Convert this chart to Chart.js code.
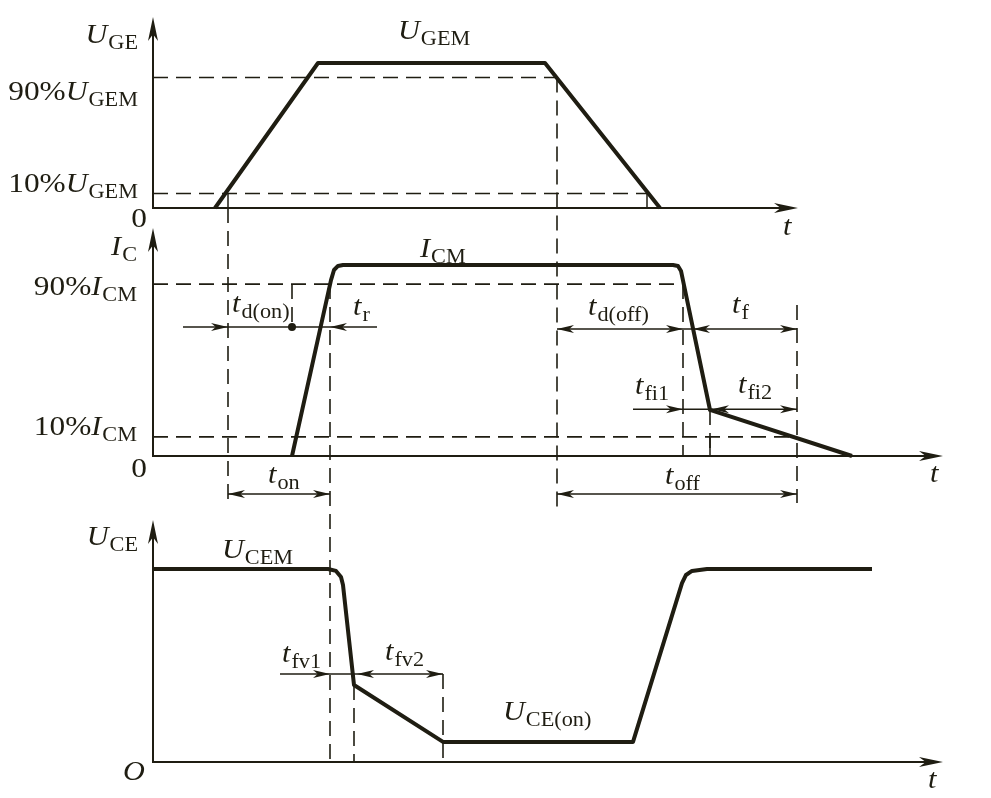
<!DOCTYPE html>
<html>
<head>
<meta charset="utf-8">
<script src="https://cdn.jsdelivr.net/npm/chart.js@4/dist/chart.umd.min.js"></script>
<style>
  html, body { margin: 0; padding: 0; background: #fff; }
</style>
</head>
<body>
<canvas id="myChart" width="991" height="798"></canvas>
<script>
// time in arbitrary units, 0 = the vertical axes
// each waveform normalised to its own maximum (UGEM, ICM, UCEM = 1)
const ugeT = [6.2, 16.5, 39.2, 50.7]
const ugeV = [0, 1, 1, 0]
const icT = [13.9, 17.8, 18.1, 18.5, 19.0, 52.0, 52.5, 52.8, 55.7, 69.9]
const icV = [0, 0.921, 0.974, 0.995, 1, 1, 0.995, 0.969, 0.241, 0]
const uceT = [0, 17.5, 18.3, 18.8, 19.0, 20.1, 29.0, 48.0, 52.9, 53.3, 53.9, 55.4, 71.9]
const uceV = [1, 1, 0.990, 0.959, 0.917, 0.399, 0.104, 0.104, 0.927, 0.969, 0.990, 1, 1]

// axes: panel, arrow top value, x-axis end time
const axesDef = [['g', 1.317, 64.5], ['c', 1.194, 79.0], ['e', 1.254, 79.0]]

// dashed guides: horizontal [panel, level, t0, t1]
const hGuides = [['g', 0.9, 0, 40.4], ['g', 0.1, 0, 49.4], ['c', 0.9, 0, 53.0], ['c', 0.1, 0, 64.4]]
// vertical [t, panelFrom, vFrom, panelTo, vTo]
const vGuides = [
    [7.5, 'g', 0, 'c', -0.267],
    [40.4, 'g', 0.9, 'c', -0.267],
    [13.9, 'c', 0.9, 'c', 0.675],
    [17.7, 'c', 0.9, 'e', 0],
    [53.0, 'c', 0.9, 'c', 0],
    [55.7, 'c', 0.241, 'c', 0],
    [64.4, 'c', 0.79, 'c', -0.246],
    [20.1, 'e', 0.399, 'e', 0],
    [29.0, 'e', 0.456, 'e', 0]
]
// short solid ticks [t, panel, v0, v1]
const ticksDef = [[7.5, 'g', 0.1, 0], [49.4, 'g', 0.1, 0], [55.7, 'c', 0.1, 0]]

// dimension lines [panel, level, t0, t1, arrowheads [t, dir]]
const dims = [
    ['c', 0.675, 3.0, 22.4, [[7.5, 1], [17.7, -1]]],
    ['c', 0.665, 40.4, 64.4, [[40.4, -1], [53.0, 1], [54.0, -1], [64.4, 1]]],
    ['c', 0.245, 48.0, 64.4, [[53.0, 1], [55.9, -1], [64.4, 1]]],
    ['c', -0.199, 7.5, 17.7, [[7.5, -1], [17.7, 1]]],
    ['c', -0.199, 40.4, 64.4, [[40.4, -1], [64.4, 1]]],
    ['e', 0.456, 12.7, 29.0, [[17.7, 1], [20.4, -1], [29.0, 1]]]
]
const dots = [['c', 13.9, 0.675]]

// labels [upright prefix, italic, subscript, panel, t, v, align]
const labels = [
    ['', 'U', 'GE', 'g', -1.5, 1.138, 'right'],
    ['90%', 'U', 'GEM', 'g', -1.5, 0.745, 'right'],
    ['10%', 'U', 'GEM', 'g', -1.5, 0.110, 'right'],
    ['0', '', '', 'g', -0.6, -0.131, 'right'],
    ['', 'U', 'GEM', 'g', 24.5, 1.166, 'left'],
    ['', 't', '', 'g', 63.0, -0.186, 'left'],
    ['', 'I', 'C', 'c', -1.6, 1.052, 'right'],
    ['90%', 'I', 'CM', 'c', -1.6, 0.843, 'right'],
    ['10%', 'I', 'CM', 'c', -1.6, 0.110, 'right'],
    ['0', '', '', 'c', -0.6, -0.110, 'right'],
    ['', 'I', 'CM', 'c', 26.7, 1.042, 'left'],
    ['', 't', 'd(on)', 'c', 7.9, 0.754, 'left'],
    ['', 't', 'r', 'c', 20.0, 0.738, 'left'],
    ['', 't', 'd(off)', 'c', 43.5, 0.738, 'left'],
    ['', 't', 'f', 'c', 57.9, 0.749, 'left'],
    ['', 't', 'fi1', 'c', 48.2, 0.325, 'left'],
    ['', 't', 'fi2', 'c', 58.5, 0.330, 'left'],
    ['', 't', 'on', 'c', 11.5, -0.141, 'left'],
    ['', 't', 'off', 'c', 51.2, -0.147, 'left'],
    ['', 't', '', 'c', 77.7, -0.136, 'left'],
    ['', 'U', 'CE', 'e', -1.5, 1.124, 'right'],
    ['', 'U', 'CEM', 'e', 6.9, 1.057, 'left'],
    ['', 't', 'fv1', 'e', 12.9, 0.518, 'left'],
    ['', 't', 'fv2', 'e', 23.2, 0.528, 'left'],
    ['', 'U', 'CE(on)', 'e', 35.0, 0.218, 'left'],
    ['', 'O', '', 'e', -3.0, -0.093, 'left'],
    ['', 't', '', 'e', 77.5, -0.135, 'left']
]

const ink = '#1f1d12'

function pts(ts, vs) {
    return ts.map((t, i) => ({x: t, y: vs[i]}))
}

function arrowHead(ctx, x, y, dx, dy, len, w) {
    // tip at (x,y), pointing along (dx,dy)
    const nx = -dy, ny = dx
    ctx.beginPath()
    ctx.moveTo(x, y)
    ctx.lineTo(x - dx * len + nx * w, y - dy * len + ny * w)
    ctx.lineTo(x - dx * len * 0.72, y - dy * len * 0.72)
    ctx.lineTo(x - dx * len - nx * w, y - dy * len - ny * w)
    ctx.closePath()
    ctx.fill()
}

// draws a piece of text stretched horizontally, returns its width
function piece(ctx, text, font, sx, x, y, measureOnly) {
    ctx.font = font
    const w = ctx.measureText(text).width * sx
    if (!measureOnly && text) {
        ctx.save()
        ctx.translate(x, y)
        ctx.scale(sx, 1)
        ctx.fillText(text, 0, 0)
        ctx.restore()
    }
    return w
}

function drawLabel(ctx, pre, ital, sub, x, y, align) {
    const fUp = '28px "Liberation Serif"'
    const fIt = 'italic 28px "Liberation Serif"'
    const fSub = '21px "Liberation Serif"'
    ctx.textAlign = 'left'
    ctx.textBaseline = 'alphabetic'
    const total = piece(ctx, pre, fUp, 1.12, 0, 0, true) + piece(ctx, ital, fIt, 1.08, 0, 0, true) +
        piece(ctx, sub, fSub, 1.06, 0, 0, true) + (sub ? 1 : 0)
    let cx = align === 'right' ? x - total : x
    cx += piece(ctx, pre, fUp, 1.12, cx, y)
    cx += piece(ctx, ital, fIt, 1.08, cx, y)
    if (sub) piece(ctx, sub, fSub, 1.06, cx + 1, y + 6)
}

const diagram = {
    id: 'diagram',
    beforeDatasetsDraw(chart) {
        const ctx = chart.ctx
        const X = chart.scales.x
        const Y = {g: chart.scales.yG, c: chart.scales.yC, e: chart.scales.yE}
        const px = t => X.getPixelForValue(t)
        const py = (p, v) => Y[p].getPixelForValue(v)
        ctx.save()
        ctx.strokeStyle = ink
        ctx.lineWidth = 1.6
        ctx.setLineDash([15, 8])
        for (const [p, v, t0, t1] of hGuides) {
            ctx.beginPath()
            ctx.moveTo(px(t0), py(p, v))
            ctx.lineTo(px(t1), py(p, v))
            ctx.stroke()
        }
        for (const [t, p0, v0, p1, v1] of vGuides) {
            ctx.beginPath()
            ctx.moveTo(px(t), py(p0, v0))
            ctx.lineTo(px(t), py(p1, v1))
            ctx.stroke()
        }
        ctx.setLineDash([])
        ctx.lineWidth = 1.5
        for (const [t, p, v0, v1] of ticksDef) {
            ctx.beginPath()
            ctx.moveTo(px(t), py(p, v0))
            ctx.lineTo(px(t), py(p, v1))
            ctx.stroke()
        }
        // axes
        ctx.fillStyle = ink
        ctx.lineWidth = 2
        for (const [p, top, tEnd] of axesDef) {
            const x0 = px(0), y0 = py(p, 0)
            ctx.beginPath()
            ctx.moveTo(x0, py(p, top) + 6)
            ctx.lineTo(x0, y0)
            ctx.lineTo(px(tEnd) - 6, y0)
            ctx.stroke()
            arrowHead(ctx, x0, py(p, top), 0, -1, 24, 5)
            arrowHead(ctx, px(tEnd), y0, 1, 0, 24, 5)
        }
        ctx.restore()
    },
    afterDatasetsDraw(chart) {
        const ctx = chart.ctx
        const X = chart.scales.x
        const Y = {g: chart.scales.yG, c: chart.scales.yC, e: chart.scales.yE}
        const px = t => X.getPixelForValue(t)
        const py = (p, v) => Y[p].getPixelForValue(v)
        ctx.save()
        ctx.strokeStyle = ink
        ctx.fillStyle = ink
        ctx.lineWidth = 1.5
        for (const [p, v, t0, t1, heads] of dims) {
            const y = py(p, v)
            ctx.beginPath()
            ctx.moveTo(px(t0), y)
            ctx.lineTo(px(t1), y)
            ctx.stroke()
            for (const [t, d] of heads) arrowHead(ctx, px(t), y, d, 0, 17, 4)
        }
        for (const [p, t, v] of dots) {
            ctx.beginPath()
            ctx.arc(px(t), py(p, v), 4, 0, Math.PI * 2)
            ctx.fill()
        }
        for (const [pre, ital, sub, p, t, v, align] of labels) {
            drawLabel(ctx, pre, ital, sub, px(t), py(p, v), align)
        }
        ctx.restore()
    }
}

const wave = {
    borderColor: ink,
    borderWidth: 4,
    pointRadius: 0,
    fill: false,
    tension: 0,
    borderJoinStyle: 'round',
    borderCapStyle: 'butt'
}

new Chart(document.getElementById('myChart'), {
    type: 'line',
    data: {
        datasets: [
            Object.assign({label: 'UGE', data: pts(ugeT, ugeV), yAxisID: 'yG'}, wave),
            Object.assign({label: 'IC', data: pts(icT, icV), yAxisID: 'yC'}, wave),
            Object.assign({label: 'UCE', data: pts(uceT, uceV), yAxisID: 'yE'}, wave)
        ]
    },
    options: {
        responsive: false,
        animation: false,
        layout: {padding: 0},
        plugins: {legend: {display: false}, tooltip: {enabled: false}},
        scales: {
            x: {type: 'linear', min: -15.3, max: 83.8, display: false},
            yG: {type: 'linear', min: -590 / 145, max: 208 / 145, display: false},
            yC: {type: 'linear', min: -342 / 191, max: 456 / 191, display: false},
            yE: {type: 'linear', min: -36 / 193, max: 762 / 193, display: false}
        }
    },
    plugins: [diagram]
})
</script>
</body>
</html>
